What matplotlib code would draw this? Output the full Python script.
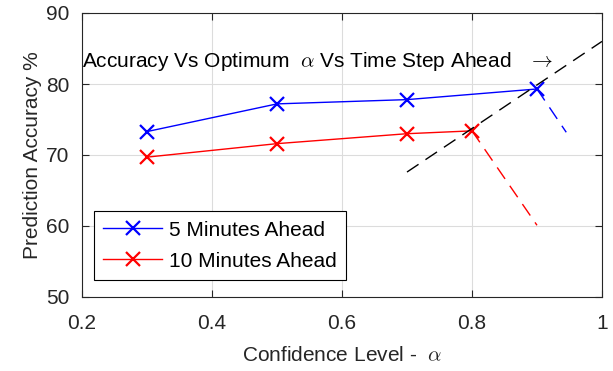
import matplotlib
matplotlib.use('Agg')
import matplotlib.pyplot as plt

plt.rcParams['font.family'] = ['Liberation Sans', 'DejaVu Sans']
plt.rcParams['mathtext.fontset'] = 'cm'

# data
alpha = [0.3, 0.5, 0.7, 0.9]
acc5 = [73.3, 77.2, 77.8, 79.3]
alpha10 = [0.3, 0.5, 0.7, 0.8]
acc10 = [69.7, 71.6, 73.0, 73.4]
# dashed extensions
ext5_x = [0.9, 0.945]
ext5_y = [79.3, 73.2]
ext10_x = [0.8, 0.9]
ext10_y = [73.4, 60.1]
trend_x = [0.7, 1.0]
trend_y = [67.6, 86.0]

fs = 15
fig = plt.figure(figsize=(6.13, 3.71), dpi=100)
ax = fig.add_axes([82/613, 1-297/371, 520/613, 284/371])

ax.plot(alpha, acc5, color='blue', lw=1, marker='x', ms=10, mew=1.6, label='5 Minutes Ahead')
ax.plot(alpha10, acc10, color='red', lw=1, marker='x', ms=10, mew=1.6, label='10 Minutes Ahead')
ax.plot(ext5_x, ext5_y, color='blue', lw=1, ls=(0, (10, 6)))
ax.plot(ext10_x, ext10_y, color='red', lw=1, ls=(0, (10, 6)))
ax.plot(trend_x, trend_y, color='black', lw=1, ls=(0, (10, 6)))

ax.text(0.2, 83.1, r'Accuracy Vs Optimum  $\alpha$ Vs Time Step Ahead   $\rightarrow$',
        fontsize=fs, va='center', ha='left')

ax.set_xlim(0.2, 1.0)
ax.set_ylim(50, 90)
ax.set_xticks([0.2, 0.4, 0.6, 0.8, 1.0])
ax.set_xticklabels(['0.2', '0.4', '0.6', '0.8', '1'])
ax.set_yticks([50, 60, 70, 80, 90])
ax.grid(True, color='#dcdcdc', lw=0.8)
ax.set_axisbelow(True)
ax.tick_params(direction='in', top=True, right=True, labelsize=fs, colors='#262626', length=5)
ax.tick_params(axis='x', pad=12.5)
ax.tick_params(axis='y', pad=9)
for s in ax.spines.values():
    s.set_color('#262626')
    s.set_linewidth(0.8)

ax.set_xlabel(r'Confidence Level -  $\alpha$', fontsize=fs, color='#262626', labelpad=9)
ax.set_ylabel('Prediction Accuracy %', fontsize=fs, color='#262626', labelpad=3)

leg = ax.legend(loc='lower left', bbox_to_anchor=(0.023, 0.06), fontsize=fs, fancybox=False,
                edgecolor='black', framealpha=1, handlelength=2.8, handletextpad=0.35,
                borderpad=0.45, labelspacing=0.58, borderaxespad=0)
leg.get_frame().set_linewidth(0.8)

fig.savefig('out.png', dpi=100)
